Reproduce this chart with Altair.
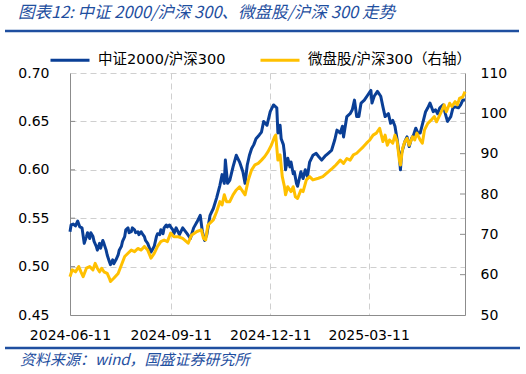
import altair as alt
import pandas as pd

# ---------------- data ----------------
blue_dates = [
    "2024-06-11","2024-06-12","2024-06-14","2024-06-16","2024-06-18","2024-06-20","2024-06-22","2024-06-24",
    "2024-06-26","2024-06-27","2024-06-29","2024-06-30","2024-07-02","2024-07-03","2024-07-05","2024-07-06",
    "2024-07-08","2024-07-09","2024-07-11","2024-07-12","2024-07-14","2024-07-15","2024-07-17","2024-07-18",
    "2024-07-20","2024-07-21","2024-07-23","2024-07-25","2024-07-26","2024-07-28","2024-07-29","2024-07-31",
    "2024-08-01","2024-08-03","2024-08-04","2024-08-06","2024-08-07","2024-08-09","2024-08-10","2024-08-12",
    "2024-08-13","2024-08-15","2024-08-16","2024-08-18","2024-08-19","2024-08-21","2024-08-22","2024-08-24",
    "2024-08-25","2024-08-27","2024-08-29","2024-08-30","2024-09-01","2024-09-02","2024-09-04","2024-09-05",
    "2024-09-07","2024-09-08","2024-09-10","2024-09-11","2024-09-13","2024-09-14","2024-09-16","2024-09-19",
    "2024-09-22","2024-09-26","2024-09-29","2024-10-02","2024-10-05","2024-10-08","2024-10-10","2024-10-12",
    "2024-10-14","2024-10-17","2024-10-20","2024-10-23","2024-10-26","2024-10-28","2024-10-30","2024-10-31",
    "2024-11-02","2024-11-04","2024-11-07","2024-11-10","2024-11-13","2024-11-16","2024-11-18","2024-11-20",
    "2024-11-22","2024-11-24","2024-11-26","2024-11-28","2024-12-01","2024-12-03","2024-12-05","2024-12-08",
    "2024-12-11","2024-12-14","2024-12-17","2024-12-18","2024-12-20","2024-12-21","2024-12-23","2024-12-24",
    "2024-12-25","2024-12-27","2024-12-29","2024-12-30","2025-01-01","2025-01-02","2025-01-04","2025-01-05",
    "2025-01-08","2025-01-10","2025-01-12","2025-01-14","2025-01-16","2025-01-19","2025-01-22","2025-01-24",
    "2025-01-27","2025-01-30","2025-02-02","2025-02-05","2025-02-08","2025-02-10","2025-02-13","2025-02-15",
    "2025-02-16","2025-02-19","2025-02-22","2025-02-24","2025-02-26","2025-02-28","2025-03-02","2025-03-04",
    "2025-03-07","2025-03-10","2025-03-13","2025-03-14","2025-03-16","2025-03-19","2025-03-22","2025-03-24",
    "2025-03-26","2025-03-29","2025-03-31","2025-04-02","2025-04-04","2025-04-06","2025-04-08","2025-04-09",
    "2025-04-10","2025-04-13","2025-04-15","2025-04-17","2025-04-19","2025-04-21","2025-04-23","2025-04-25",
    "2025-04-27","2025-04-30","2025-05-02","2025-05-04","2025-05-06","2025-05-09","2025-05-11","2025-05-13",
    "2025-05-15","2025-05-18","2025-05-20","2025-05-22","2025-05-25","2025-05-27","2025-05-29","2025-06-01",
    "2025-06-03","2025-06-05","2025-06-07",
]
blue_values = [
    0.536,0.543,0.544,0.542,0.547,0.541,0.540,0.524,
    0.531,0.535,0.529,0.535,0.531,0.526,0.521,0.517,
    0.524,0.519,0.527,0.524,0.517,0.512,0.505,0.502,
    0.507,0.503,0.507,0.512,0.517,0.521,0.526,0.531,
    0.538,0.540,0.535,0.536,0.540,0.538,0.535,0.536,
    0.533,0.536,0.534,0.531,0.527,0.524,0.521,0.515,
    0.517,0.521,0.531,0.534,0.533,0.538,0.534,0.540,
    0.543,0.541,0.543,0.541,0.538,0.534,0.540,0.533,
    0.540,0.534,0.529,0.540,0.546,0.553,0.536,0.527,
    0.533,0.553,0.560,0.571,0.584,0.595,0.586,0.610,
    0.586,0.589,0.603,0.615,0.608,0.598,0.586,0.605,
    0.615,0.622,0.626,0.632,0.636,0.639,0.650,0.646,
    0.660,0.667,0.664,0.638,0.646,0.632,0.626,0.617,
    0.600,0.612,0.603,0.608,0.596,0.598,0.586,0.583,
    0.598,0.591,0.600,0.593,0.608,0.615,0.617,0.614,
    0.610,0.614,0.617,0.620,0.631,0.641,0.638,0.645,
    0.634,0.655,0.658,0.662,0.672,0.655,0.655,0.669,
    0.672,0.677,0.682,0.669,0.676,0.681,0.676,0.665,
    0.655,0.658,0.648,0.651,0.645,0.631,0.614,0.600,
    0.617,0.629,0.634,0.624,0.632,0.636,0.643,0.638,
    0.638,0.651,0.660,0.664,0.669,0.660,0.662,0.658,
    0.664,0.667,0.658,0.650,0.655,0.664,0.665,0.664,
    0.667,0.672,0.672,
]

yellow_dates = [
    "2024-06-11","2024-06-13","2024-06-16","2024-06-19","2024-06-21","2024-06-23","2024-06-26","2024-06-29",
    "2024-07-02","2024-07-04","2024-07-06","2024-07-08","2024-07-10","2024-07-12","2024-07-15","2024-07-17",
    "2024-07-18","2024-07-21","2024-07-25","2024-07-28","2024-07-31","2024-08-03","2024-08-06","2024-08-09",
    "2024-08-12","2024-08-15","2024-08-18","2024-08-21","2024-08-24","2024-08-27","2024-08-30","2024-09-02",
    "2024-09-05","2024-09-08","2024-09-11","2024-09-14","2024-09-18","2024-09-22","2024-09-27","2024-09-30",
    "2024-10-05","2024-10-09","2024-10-11","2024-10-13","2024-10-15","2024-10-20","2024-10-23","2024-10-26",
    "2024-10-28","2024-10-30","2024-11-01","2024-11-04","2024-11-07","2024-11-10","2024-11-13","2024-11-16",
    "2024-11-18","2024-11-21","2024-11-24","2024-11-27","2024-11-30","2024-12-03","2024-12-06","2024-12-09",
    "2024-12-12","2024-12-15","2024-12-16","2024-12-18","2024-12-20","2024-12-22","2024-12-24","2024-12-25",
    "2024-12-27","2024-12-30","2025-01-01","2025-01-03","2025-01-05","2025-01-08","2025-01-10","2025-01-13",
    "2025-01-16","2025-01-19","2025-01-24","2025-01-28","2025-02-02","2025-02-06","2025-02-09","2025-02-13",
    "2025-02-16","2025-02-19","2025-02-22","2025-02-25","2025-02-28","2025-03-03","2025-03-06","2025-03-09",
    "2025-03-12","2025-03-15","2025-03-18","2025-03-21","2025-03-24","2025-03-26","2025-03-28","2025-03-30",
    "2025-04-02","2025-04-04","2025-04-06","2025-04-08","2025-04-09","2025-04-11","2025-04-13","2025-04-15",
    "2025-04-17","2025-04-20","2025-04-22","2025-04-24","2025-04-27","2025-04-29","2025-05-01","2025-05-04",
    "2025-05-07","2025-05-10","2025-05-12","2025-05-15","2025-05-17","2025-05-19","2025-05-21","2025-05-24",
    "2025-05-26","2025-05-29","2025-05-31","2025-06-02","2025-06-05","2025-06-07",
]
yellow_values = [
    59.5,61.2,60.7,62.0,60.7,59.5,61.6,62.0,
    61.2,62.8,61.6,60.7,61.6,60.7,60.3,59.1,
    58.3,59.1,60.3,62.4,64.5,65.3,66.1,65.7,
    66.5,66.1,67.0,66.1,64.1,65.3,67.0,68.2,
    68.6,68.2,70.3,69.4,69.4,69.0,67.8,69.8,
    70.7,71.1,69.0,68.6,72.3,73.6,75.6,78.1,
    77.3,79.8,78.1,78.1,79.8,81.0,81.8,80.6,
    79.8,83.5,86.0,87.2,87.6,88.4,89.3,90.5,
    92.1,94.2,94.6,88.4,89.7,84.3,81.8,79.8,
    81.8,80.6,81.8,79.3,78.9,81.0,80.6,83.5,
    84.3,83.5,83.9,84.3,85.5,86.4,87.2,88.4,
    87.6,88.8,88.4,89.7,90.1,90.9,91.7,92.6,
    93.4,94.6,95.1,96.3,93.0,94.6,92.1,93.4,
    92.6,94.6,93.0,88.4,87.2,91.3,93.0,93.8,
    92.1,94.2,93.4,95.1,93.4,92.6,95.9,97.5,
    98.3,99.2,97.9,99.6,100.8,102.1,100.4,102.5,
    101.7,102.9,102.1,103.7,104.1,105.4,
]

x_ticks = ["2024-06-11", "2024-09-11", "2024-12-11", "2025-03-11"]
x_end = "2025-06-07"
left_ticks = [0.45, 0.50, 0.55, 0.60, 0.65, 0.70]
right_ticks = [50, 60, 70, 80, 90, 100, 110]

series_names = ["中证2000/沪深300", "微盘股/沪深300（右轴）"]
title_text = ["图表12:  中证 2000/沪深 300、微盘股/沪深 300 走势"]
source_text = ["资料来源：wind，国盛证券研究所"]

# ---------------- styles ----------------
BLUE = "#0a3f96"
GOLD = "#ffc000"
HEAD = "#1f4fa0"
AXIS_C = "#8c8c8c"
GRID_C = "#cfcfcf"
LAT = "DejaVu Sans"
MIX = "DejaVu Sans, Noto Sans CJK SC"
CJK = "Noto Sans CJK SC"


def dt(s):
    y, m, d = map(int, s.split("-"))
    return alt.DateTime(year=y, month=m, date=d)


df1 = pd.DataFrame({"date": pd.to_datetime(blue_dates), "value": blue_values, "series": series_names[0]})
df2 = pd.DataFrame({"date": pd.to_datetime(yellow_dates), "value": yellow_values, "series": series_names[1]})
df_lt = pd.DataFrame({"value": left_ticks[1:-1]})
df_rt = pd.DataFrame({"value": right_ticks[1:-1]})

xenc = alt.X(
    "date:T",
    scale=alt.Scale(domain=[dt(x_ticks[0]), dt(x_end)]),
    axis=alt.Axis(
        values=[dt(s) for s in x_ticks], format="%Y-%m-%d", title=None,
        grid=True, gridDash=[6, 4], gridColor=GRID_C, gridWidth=1,
        ticks=False, tickSize=0, labelPadding=13, labelFlush=False, labelOverlap=False,
        domainColor=AXIS_C, domainWidth=1, labelFont=LAT, labelFontSize=14, labelColor="#000",
    ),
)

color = alt.Color(
    "series:N",
    scale=alt.Scale(domain=series_names, range=[BLUE, GOLD]),
    legend=alt.Legend(
        orient="none", legendX=-21, legendY=-34, direction="horizontal", title=None,
        symbolType="stroke", symbolSize=1521, symbolStrokeWidth=3,
        labelFont=MIX, labelFontSize=14.5, labelColor="#000", labelOffset=7,
        labelLimit=400, columnPadding=28,
    ),
)

yl_scale = alt.Scale(domain=[left_ticks[0], left_ticks[-1]], nice=False, zero=False)
yl_axis = alt.Axis(
    values=left_ticks, format=".2f", title=None, grid=True, gridDash=[6, 4],
    gridColor=GRID_C, gridWidth=1, ticks=False, tickSize=0, labelPadding=21,
    domainColor=AXIS_C, labelFont=LAT, labelFontSize=14, labelColor="#000",
)

yr_axis = alt.Axis(
    orient="right", values=right_ticks, format="d", title=None, grid=False,
    ticks=False, tickSize=0, labelPadding=15, domainColor=AXIS_C,
    labelFont=LAT, labelFontSize=14, labelColor="#000",
)
yr_scale = alt.Scale(domain=[right_ticks[0], right_ticks[-1]], nice=False, zero=False)

blue_line = alt.Chart(df1).mark_line(strokeWidth=3, strokeJoin="round").encode(
    x=xenc, y=alt.Y("value:Q", scale=yl_scale, axis=yl_axis), color=color
)
left_tick_marks = alt.Chart(df_lt).mark_rule(color=AXIS_C, strokeWidth=1).encode(
    y=alt.Y("value:Q", scale=yl_scale, axis=yl_axis),
    x=alt.value(0), x2=alt.value(5),
)
left_group = alt.layer(blue_line, left_tick_marks)

gold_line = alt.Chart(df2).mark_line(strokeWidth=3, strokeJoin="round").encode(
    x=xenc, y=alt.Y("value:Q", scale=yr_scale, axis=yr_axis), color=color
)
right_tick_marks = alt.Chart(df_rt).mark_rule(color=AXIS_C, strokeWidth=1).encode(
    y=alt.Y("value:Q", scale=yr_scale, axis=yr_axis),
    x=alt.value(390), x2=alt.value(395),
)
right_group = alt.layer(gold_line, right_tick_marks)

title_mark = alt.Chart(pd.DataFrame({"t": title_text})).mark_text(
    align="left", baseline="middle", font=CJK, fontSize=16.5, fontStyle="italic", color=HEAD
).encode(x=alt.value(-52), y=alt.value(-60), text="t:N")

source_mark = alt.Chart(pd.DataFrame({"t": source_text})).mark_text(
    align="left", baseline="middle", font=CJK, fontSize=15, fontStyle="italic", color=HEAD
).encode(x=alt.value(-50), y=alt.value(287), text="t:N")

top_rule = alt.Chart(pd.DataFrame({"t": [0]})).mark_rule(color=HEAD, strokeWidth=2.5).encode(
    x=alt.value(-65), x2=alt.value(449), y=alt.value(-42)
)
bottom_rule = alt.Chart(pd.DataFrame({"t": [0]})).mark_rule(color=HEAD, strokeWidth=2.5).encode(
    x=alt.value(-65), x2=alt.value(450), y=alt.value(275)
)

chart = alt.layer(
    left_group, right_group, title_mark, source_mark, top_rule, bottom_rule
).resolve_scale(y="independent").properties(
    width=395, height=242,
    autosize=alt.AutoSizeParams(type="none"),
    padding={"left": 70, "top": 73, "right": 61, "bottom": 59},
    background="white",
).configure_view(stroke=None)

chart.save("out.html", embed_options={"renderer": "svg", "actions": False})
